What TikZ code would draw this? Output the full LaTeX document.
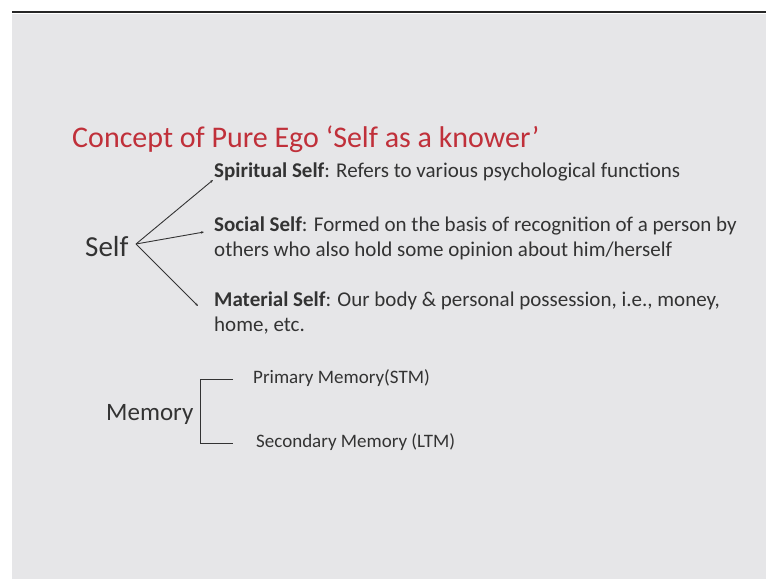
\documentclass[tikz,border=0pt]{standalone}
\usepackage{fontspec}
\setmainfont{Carlito}
\usetikzlibrary{arrows.meta}

\definecolor{slidebg}{HTML}{E6E6E8}
\definecolor{slidered}{HTML}{C0303A}
\definecolor{slidetext}{HTML}{333333}

\begin{document}
\begin{tikzpicture}[x=1pt, y=-1pt,
    branch/.style={slidetext, line width=0.9pt, -{Stealth[length=3pt,width=2.5pt]}},
    brace/.style={slidetext, line width=0.9pt},
    head/.style={text=slidetext, inner sep=0pt, anchor=base west},
    item/.style={font=\fontsize{21}{25}\selectfont, text=slidetext, align=left,
                 inner sep=0pt, anchor=base west},
    sub/.style={font=\fontsize{19}{22}\selectfont, text=slidetext, inner sep=0pt,
                anchor=base west}]

\useasboundingbox (0,0) rectangle (766,581);
\fill[white] (0,0) rectangle (766,581);
\fill[slidebg] (12,14) rectangle (766,579);
\draw[black!85, line width=2pt] (12,12) -- (766,12);

% --- title -------------------------------------------------------------------
\node[font=\fontsize{30}{34}\selectfont, text=slidered, inner sep=0pt,
      anchor=base west] (title) at (72,147) {Concept of Pure Ego ‘Self as a knower’};

% --- self and its three branches --  name/last baseline/tip/label -------------
\node[head, font=\fontsize{29}{32}\selectfont] (self) at (85,256) {Self};
\coordinate (apex) at (136,244);
\foreach \name/\by/\tx/\ty/\text in {%
    spiritual/177/213/180/{\textbf{Spiritual Self}: Refers to various psychological functions},
    social/256/204/232/{\textbf{Social Self}: Formed on the basis of recognition of a person by\\others who also hold some opinion about him/herself},
    material/331/198/306/{\textbf{Material Self}: Our body \& personal possession, i.e., money,\\home, etc.}}
{
  \node[item] (\name) at (214,\by) {\text};
  \coordinate (\name tip) at (\tx,\ty);
  \draw[branch] (apex) -- (\name tip);
}

% --- memory bracket ----------------------------------------------------------
\node[head, font=\fontsize{25}{28}\selectfont] (memory) at (106,420) {Memory};
\node[sub] (stm) at (253,383) {Primary Memory(STM)};
\node[sub] (ltm) at (256,447) {Secondary Memory (LTM)};
\coordinate (stmend) at (233,379);
\coordinate (ltmend) at (233,443);
\draw[brace] (stmend) -- (200,379) -- (200,443) -- (ltmend);
\end{tikzpicture}
\end{document}
